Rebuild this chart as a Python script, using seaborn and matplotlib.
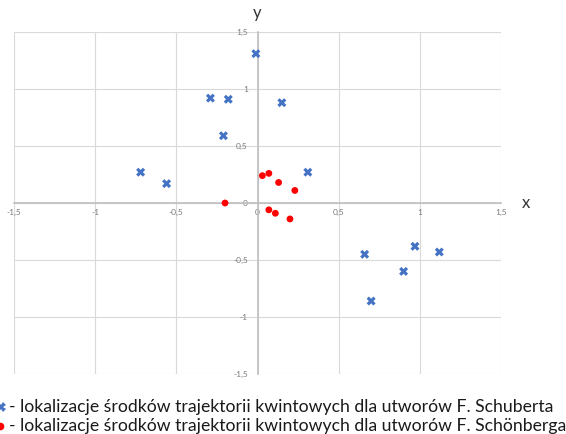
import seaborn as sns
import pandas as pd
import matplotlib.pyplot as plt
from matplotlib.lines import Line2D

sns.set_style("white")
plt.rcParams['font.family'] = ['Lato', 'DejaVu Sans']

# centres of fifth trajectories
schubert_x = [-0.01, -0.29, -0.18, 0.15, -0.21, -0.72, -0.56, 0.31, 0.66, 0.97, 1.12, 0.90, 0.70]
schubert_y = [1.31, 0.92, 0.91, 0.88, 0.59, 0.27, 0.17, 0.27, -0.45, -0.38, -0.43, -0.60, -0.86]
schoenberg_x = [0.03, 0.07, 0.13, 0.23, -0.20, 0.07, 0.11, 0.20]
schoenberg_y = [0.24, 0.26, 0.18, 0.11, 0.00, -0.06, -0.09, -0.14]

ticks = [-1.5, -1, -0.5, 0, 0.5, 1, 1.5]
tick_labels = ['-1,5', '-1', '-0,5', '0', '0,5', '1', '1,5']
legend_lines = [
    '- lokalizacje środków trajektorii kwintowych dla utworów F. Schuberta',
    '- lokalizacje środków trajektorii kwintowych dla utworów F. Schönberga',
]

BLUE = '#4472C4'
RED = '#FF0000'

schubert = pd.DataFrame({'x': schubert_x, 'y': schubert_y})
schoenberg = pd.DataFrame({'x': schoenberg_x, 'y': schoenberg_y})

fig = plt.figure(figsize=(5.66, 4.34), dpi=100)
ax = fig.add_axes([14 / 566, 1 - 374 / 434, 487 / 566, 342 / 434])

sns.scatterplot(data=schubert, x='x', y='y', marker='X', s=42, color=BLUE,
                edgecolor='none', ax=ax, zorder=3)
sns.scatterplot(data=schoenberg, x='x', y='y', marker='o', s=24, color=RED,
                edgecolor='none', ax=ax, zorder=3)

ax.set_xlim(-1.5, 1.5)
ax.set_ylim(-1.5, 1.5)
ax.set_xticks(ticks, tick_labels)
ax.set_yticks(ticks, tick_labels)
ax.set_xlabel('')
ax.set_ylabel('')
ax.grid(True, color='#D9D9D9', linewidth=0.8)
ax.set_axisbelow(True)

for s in ['top', 'right']:
    ax.spines[s].set_visible(False)
for s in ['left', 'bottom']:
    ax.spines[s].set_position(('data', 0))
    ax.spines[s].set_color('#BFBFBF')
    ax.spines[s].set_linewidth(1.2)

ax.tick_params(axis='both', length=0, labelsize=6, colors='#7a7a7a')
ax.tick_params(axis='x', pad=4)
ax.tick_params(axis='y', pad=7)

ax.text(1.655, 0, 'x', fontsize=12, color='#333333', ha='center', va='center', clip_on=False)
ax.text(0, 1.67, 'y', fontsize=12, color='#333333', ha='center', va='center', clip_on=False)

# legend written as text under the chart
fig.add_artist(Line2D([0.5 / 566], [1 - 406.7 / 434], marker='X', markersize=7,
                      color=BLUE, markeredgewidth=0, linestyle='none'))
fig.add_artist(Line2D([-0.5 / 566], [1 - 425.7 / 434], marker='o', markersize=5.5,
                      color=RED, markeredgewidth=0, linestyle='none'))
fig.text(9 / 566, 1 - 406.7 / 434, legend_lines[0], fontsize=12.7, color='#1a1a1a', va='center')
fig.text(9 / 566, 1 - 425.7 / 434, legend_lines[1], fontsize=12.7, color='#1a1a1a', va='center')

plt.savefig('out.png', dpi=100)
